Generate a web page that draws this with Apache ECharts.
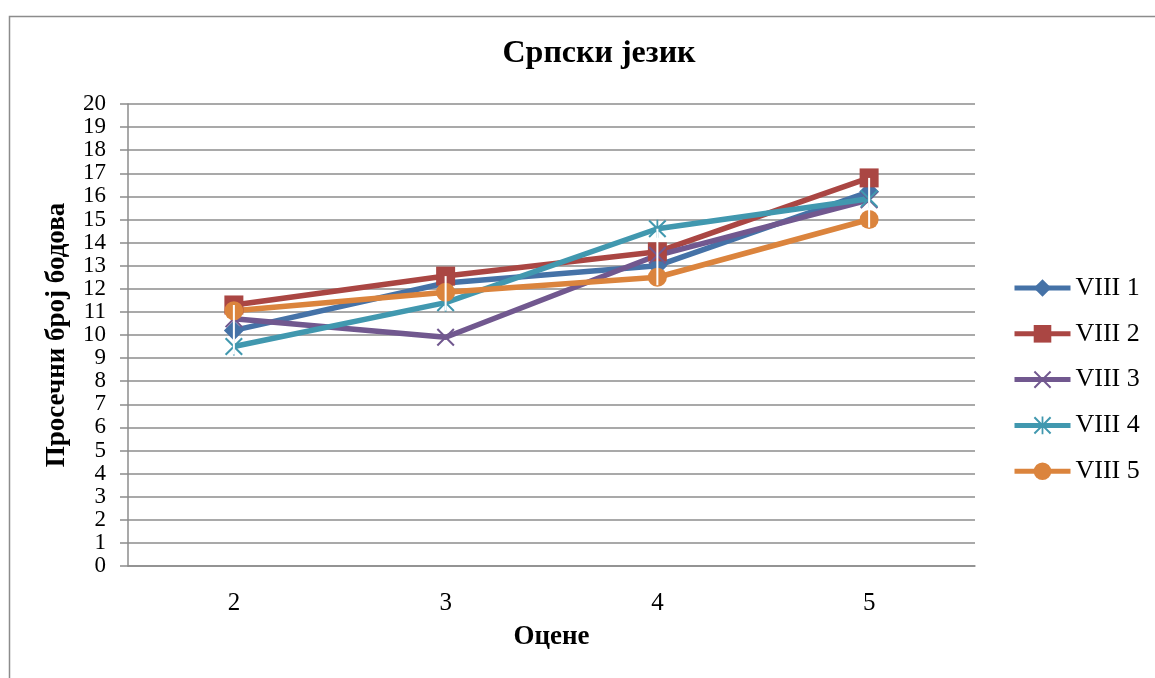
<!DOCTYPE html>
<html>
<head>
<meta charset="utf-8">
<script src="https://cdn.jsdelivr.net/npm/echarts@6/dist/echarts.min.js"></script>
<style>
html,body{margin:0;padding:0;background:#fff;}
#chart{width:1155px;height:678px;}
</style>
</head>
<body>
<div id="chart"></div>
<script>
const categories = ['2', '3', '4', '5'];
const seriesNames = ['VIII 1', 'VIII 2', 'VIII 3', 'VIII 4', 'VIII 5'];
const viii1 = [10.2, 12.25, 13.0, 16.2];
const viii2 = [11.3, 12.55, 13.6, 16.8];
const viii3 = [10.7, 9.9, 13.45, 15.85];
const viii4 = [9.5, 11.4, 14.6, 15.9];
const viii5 = [11.05, 11.85, 12.5, 15.0];
const yTicks = {min: 0, max: 20, interval: 1};

const FONT = '"Liberation Serif", "Times New Roman", serif';
const colors = ['#4572A7', '#AA4643', '#71588F', '#4198AF', '#DB843D'];
const xPath = 'path://M0,1.6 L1.6,0 L10,8.4 L18.4,0 L20,1.6 L11.6,10 L20,18.4 L18.4,20 L10,11.6 L1.6,20 L0,18.4 L8.4,10 Z';
const starPath = 'path://M0,1.6 L1.6,0 L10,8.4 L18.4,0 L20,1.6 L11.6,10 L20,18.4 L18.4,20 L10,11.6 L1.6,20 L0,18.4 L8.4,10 Z M9,0 L11,0 L11,20 L9,20 Z';
const symbols = ['diamond', 'rect', xPath, starPath, 'circle'];
const sizes = [20, 19, 18, 18, 19];
const allData = [viii1, viii2, viii3, viii4, viii5];

const hiLoSet = [viii1, viii2, viii4, viii5];
const hiLoData = categories.map((c, i) => [i,
  Math.max(...hiLoSet.map(a => a[i])),
  Math.min(...hiLoSet.map(a => a[i]))]);

const lineSeries = seriesNames.map((n, k) => ({
  name: n,
  type: 'line',
  data: allData[k],
  symbol: symbols[k],
  symbolSize: sizes[k],
  lineStyle: {width: 5.5, color: colors[k]},
  itemStyle: {color: colors[k]},
  emphasis: {disabled: true},
  animation: false,
  z: 2
}));

const chart = echarts.init(document.getElementById('chart'), null, {renderer: 'canvas'});
chart.setOption({
  animation: false,
  backgroundColor: '#fff',
  color: colors,
  title: {
    text: 'Српски језик',
    left: 599, top: 38, textAlign: 'center', padding: 0,
    textStyle: {fontFamily: FONT, fontWeight: 'bold', fontSize: 32, color: '#000'}
  },
  graphic: [{
    type: 'rect', left: 7, top: 14, z: -1,
    shape: {width: 1200, height: 720},
    style: {fill: 'none', stroke: '#8c8c8c', lineWidth: 1.5}
  }],
  legend: {
    orient: 'vertical',
    left: 1012, top: 275,
    padding: 0,
    itemWidth: 56, itemHeight: 22, itemGap: 19.8,
    data: seriesNames,
    lineStyle: {width: 5},
    textStyle: {fontFamily: FONT, fontSize: 26, color: '#000', lineHeight: 26}
  },
  grid: {left: 128, right: 180, top: 104, bottom: 112},
  xAxis: {
    type: 'category',
    data: categories,
    boundaryGap: true,
    name: 'Оцене',
    nameLocation: 'middle',
    nameGap: 58,
    nameTextStyle: {fontFamily: FONT, fontWeight: 'bold', fontSize: 27, color: '#000'},
    axisLine: {lineStyle: {color: '#8c8c8c', width: 1.5}},
    axisTick: {show: false},
    axisLabel: {fontFamily: FONT, fontSize: 25, color: '#000', margin: 25}
  },
  yAxis: {
    type: 'value',
    min: yTicks.min, max: yTicks.max, interval: yTicks.interval,
    name: 'Просечни број бодова',
    nameLocation: 'middle',
    nameGap: 57,
    nameRotate: 90,
    nameTextStyle: {fontFamily: FONT, fontWeight: 'bold', fontSize: 27, color: '#000'},
    axisLine: {show: true, lineStyle: {color: '#8c8c8c', width: 1.5}},
    axisTick: {show: true, length: 8, lineStyle: {color: '#8c8c8c', width: 1.5}},
    splitLine: {lineStyle: {color: '#8c8c8c', width: 1.5}},
    axisLabel: {
      margin: 22,
      fontFamily: FONT, fontSize: 23, color: '#000', lineHeight: 20
    }
  },
  series: lineSeries.concat([{
    type: 'custom',
    name: 'hilo',
    silent: true,
    z: 10,
    data: hiLoData,
    renderItem: function (params, api) {
      const top = api.coord([api.value(0), api.value(1)]);
      const bot = api.coord([api.value(0), api.value(2)]);
      return {
        type: 'line',
        shape: {x1: top[0], y1: top[1], x2: bot[0], y2: bot[1] + 8},
        style: {stroke: '#ffffff', lineWidth: 2}
      };
    }
  }])
});
</script>
</body>
</html>
